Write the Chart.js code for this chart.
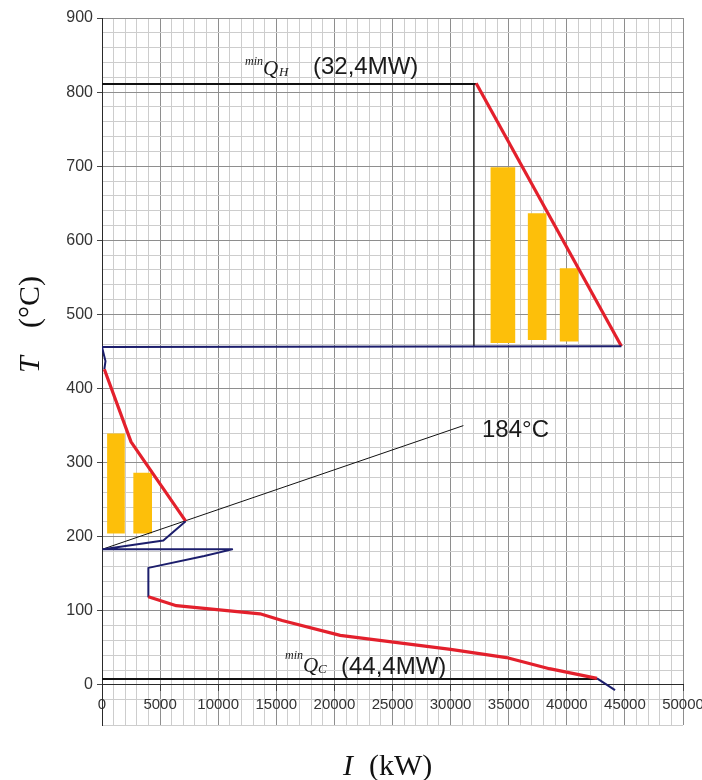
<!DOCTYPE html>
<html>
<head>
<meta charset="utf-8">
<script src="https://cdn.jsdelivr.net/npm/chart.js@4.4.1/dist/chart.umd.min.js"></script>
<style>
html,body{margin:0;padding:0;background:#ffffff;}
#wrap{width:702px;height:780px;position:relative;}
canvas{display:block;}
</style>
</head>
<body>
<div id="wrap"><canvas id="chart" width="702" height="780"></canvas></div>
<script>
// ---------- data ----------
// Axis ticks
const xTickLabels = [0, 5000, 10000, 15000, 20000, 25000, 30000, 35000, 40000, 45000, 50000];
const yTickLabels = [0, 100, 200, 300, 400, 500, 600, 700, 800, 900];

// Hot utility line (min Q_H) and cold utility line (min Q_C)
const hotUtilQ = [0, 32200];
const hotUtilT = [811, 811];
const coldUtilQ = [0, 42600];
const coldUtilT = [8, 8];

// Vertical guide under the top pocket
const guideQ = [32000, 32000];
const guideT = [811, 457];

// Grand composite curve
const gccQ = [32200, 44700, 0, 300, 200, 2500, 7200, 5280, 100, 11200, 8800, 3990, 3990, 6400, 13600, 15500, 20500, 30000, 34800, 38500, 42600, 44150];
const gccT = [812, 457, 456, 437, 426, 328, 221, 195, 183, 183, 174, 158, 119, 107, 96, 87, 67, 48, 37, 22, 9, -7];
// Segments of the curve (index of the segment start point) drawn in red
const gccRedSegments = [0, 4, 5, 12, 13, 14, 15, 16, 17, 18, 19];

// 184 °C guide line
const guide184Q = [0, 31100];
const guide184T = [183, 350];

// Orange floating bars
const upperBarQ = [34500, 37450, 40200];
const upperBarLow = [462, 466, 464];
const upperBarHigh = [698, 636, 562];
const lowerBarQ = [1200, 3500];
const lowerBarLow = [205, 205];
const lowerBarHigh = [339, 286];

// ---------- styling ----------
const NAVY = '#1c1e6c';
const RED = '#e3202c';
const ORANGE = '#fdbf0a';
const MAJOR_GRID = '#8e8e8e';
const MINOR_GRID = '#cdcdcd';
const upperBarWidths = [24, 18, 18];
const lowerBarWidths = [17, 18];

const pts = (xs, ys) => xs.map((x, i) => ({x: x, y: ys[i]}));

const datasets = [];

datasets.push({
  type: 'line', label: 'GCC', data: pts(gccQ, gccT),
  borderColor: NAVY, borderWidth: 2, pointRadius: 0, tension: 0, fill: false, order: 1,
  borderJoinStyle: 'round',
  segment: {
    borderColor: c => gccRedSegments.includes(c.p0DataIndex) ? RED : NAVY,
    borderWidth: c => gccRedSegments.includes(c.p0DataIndex) ? 3.2 : 2
  }
});
datasets.push({
  type: 'line', label: 'QH', data: pts(hotUtilQ, hotUtilT),
  borderColor: '#111111', borderWidth: 2, pointRadius: 0, tension: 0, fill: false, order: 3
});
datasets.push({
  type: 'line', label: 'QC', data: pts(coldUtilQ, coldUtilT),
  borderColor: '#111111', borderWidth: 2, pointRadius: 0, tension: 0, fill: false, order: 3
});
datasets.push({
  type: 'line', label: 'guide', data: pts(guideQ, guideT),
  borderColor: '#3a3a3a', borderWidth: 1, pointRadius: 0, tension: 0, fill: false, order: 4
});
datasets.push({
  type: 'line', label: '184', data: pts(guide184Q, guide184T),
  borderColor: '#111111', borderWidth: 1, pointRadius: 0, tension: 0, fill: false, order: 2
});
upperBarQ.forEach((q, i) => {
  datasets.push({
    type: 'bar', label: 'upper' + i, data: [{x: q, y: [upperBarLow[i], upperBarHigh[i]]}],
    backgroundColor: ORANGE, borderWidth: 0, barThickness: upperBarWidths[i], grouped: false, order: 5
  });
});
lowerBarQ.forEach((q, i) => {
  datasets.push({
    type: 'bar', label: 'lower' + i, data: [{x: q, y: [lowerBarLow[i], lowerBarHigh[i]]}],
    backgroundColor: ORANGE, borderWidth: 0, barThickness: lowerBarWidths[i], grouped: false, order: 5
  });
});

const annotations = {
  id: 'annotations',
  afterDatasetsDraw(chart) {
    const c = chart.ctx;
    c.save();
    c.fillStyle = '#1a1a1a';
    c.textBaseline = 'alphabetic';
    c.textAlign = 'left';
    // top label
    c.font = 'italic 12px "Liberation Serif", "Times New Roman", serif';
    c.fillText('min', 245, 65);
    c.font = 'italic 21px "Liberation Serif", "Times New Roman", serif';
    c.fillText('Q', 263, 75);
    c.font = 'italic 13px "Liberation Serif", "Times New Roman", serif';
    c.fillText('H', 279, 76);
    c.font = '24px "Liberation Sans", Arial, sans-serif';
    c.fillText('(32,4MW)', 313, 74);
    // bottom label
    c.font = 'italic 12px "Liberation Serif", "Times New Roman", serif';
    c.fillText('min', 285, 659);
    c.font = 'italic 21px "Liberation Serif", "Times New Roman", serif';
    c.fillText('Q', 303, 672);
    c.font = 'italic 13px "Liberation Serif", "Times New Roman", serif';
    c.fillText('C', 318, 673);
    c.font = '24px "Liberation Sans", Arial, sans-serif';
    c.fillText('(44,4MW)', 341, 674);
    // 184 °C
    c.fillText('184°C', 482, 437);
    // x axis title
    c.fillStyle = '#111111';
    c.font = 'italic 30px "Liberation Serif", "Times New Roman", serif';
    c.fillText('I', 343, 775);
    c.font = '30px "Liberation Serif", "Times New Roman", serif';
    c.fillText('(kW)', 369, 775);
    // y axis title
    c.translate(39, 373);
    c.rotate(-Math.PI / 2);
    c.font = 'italic 30px "Liberation Serif", "Times New Roman", serif';
    c.fillText('T', 0, 0);
    c.font = '30px "Liberation Serif", "Times New Roman", serif';
    c.fillText('(°C)', 45, 0);
    c.restore();
  }
};

const isMajorX = v => Math.abs(v % 5000) < 1e-6;
const isMajorY = v => Math.abs(v % 100) < 1e-6;

new Chart(document.getElementById('chart'), {
  type: 'line',
  data: {datasets: datasets},
  options: {
    responsive: false,
    animation: false,
    devicePixelRatio: 1,
    layout: {padding: {left: 0, top: 18, right: 19, bottom: 55}},
    plugins: {legend: {display: false}, tooltip: {enabled: false}},
    scales: {
      x: {
        type: 'linear',
        position: {y: 0},
        min: 0, max: 50000,
        offset: false,
        ticks: {
          stepSize: 1000, autoSkip: false, maxRotation: 0, minRotation: 0, padding: 5,
          color: '#333333',
          font: {family: '"Liberation Sans", Arial, sans-serif', size: 15},
          callback: v => (isMajorX(v) && xTickLabels.includes(v)) ? String(v) : ''
        },
        grid: {
          offset: false,
          color: c => isMajorX(c.tick.value) ? MAJOR_GRID : MINOR_GRID,
          lineWidth: 1,
          tickLength: 6,
          tickColor: c => isMajorX(c.tick.value) ? '#444444' : 'rgba(0,0,0,0)'
        },
        border: {display: true, color: '#2a2a2a', width: 1},
        afterFit: s => { s.paddingLeft = 0; s.paddingRight = 0; }
      },
      y: {
        type: 'linear',
        min: -54, max: 900,
        ticks: {
          stepSize: 20, autoSkip: false, padding: 4,
          color: '#333333',
          font: {family: '"Liberation Sans", Arial, sans-serif', size: 16},
          callback: v => (isMajorY(v) && yTickLabels.includes(v)) ? String(v) : ''
        },
        grid: {
          color: c => isMajorY(c.tick.value) ? MAJOR_GRID : MINOR_GRID,
          lineWidth: 1,
          tickLength: 5,
          tickColor: c => (isMajorY(c.tick.value) && c.tick.value >= 0) ? '#444444' : 'rgba(0,0,0,0)'
        },
        border: {display: true, color: '#2a2a2a', width: 1},
        afterFit: s => { s.width = 102; s.paddingTop = 0; s.paddingBottom = 0; }
      }
    }
  },
  plugins: [annotations]
});
</script>
</body>
</html>
